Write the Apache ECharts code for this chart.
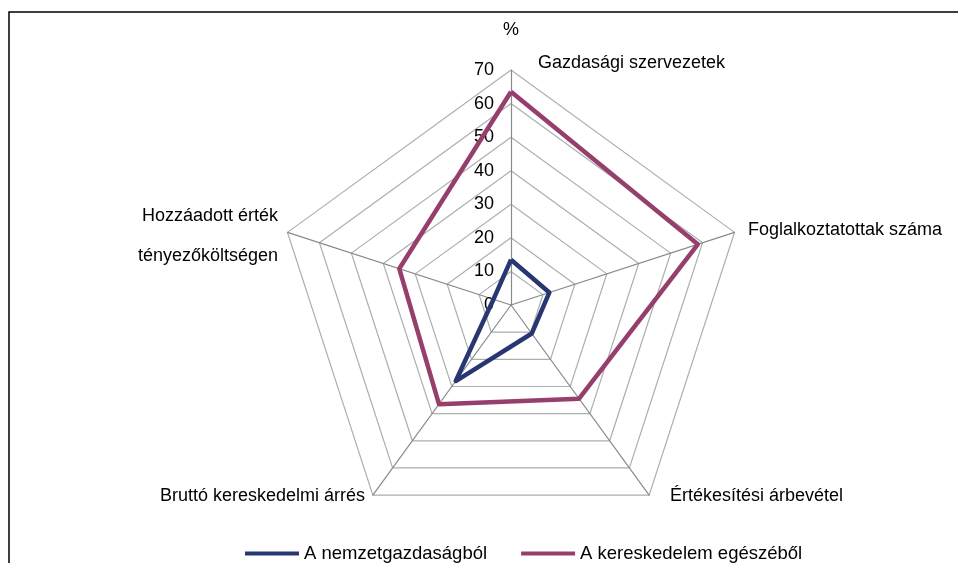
<!DOCTYPE html>
<html>
  <head>
    <meta charset="utf-8" />
    <title>ECharts</title>
    <script src="https://cdn.jsdelivr.net/npm/echarts@6/dist/echarts.min.js"></script>
  </head>

  <body style="margin: 0">
    <div id="main" style="width: 958px; height: 563px"></div>
    <script type="text/javascript">
      var myChart = echarts.init(document.getElementById("main"));

      // indicators in clockwise order, starting at the top
      const indicators = [
        "Gazdasági szervezetek",
        "Foglalkoztatottak száma",
        "Értékesítési árbevétel",
        "Bruttó kereskedelmi árrés",
        "Hozzáadott érték\ntényezőköltségen",
      ];
      const nemzetgazdasag = [13.5, 12, 10.5, 28, 5.5];
      const kereskedelem = [63.5, 58.5, 34.5, 36.5, 35];
      const seriesNames = ["A nemzetgazdaságból", "A kereskedelem egészéből"];
      const axisMax = 70;

      // ECharts lays radar axes out counter-clockwise, so reverse after the first
      function clockwise(arr) {
        return [arr[0]].concat(arr.slice(1).reverse());
      }

      const cx = 511, cy = 305, R = 235;
      const font = "'Liberation Sans', Arial, sans-serif";

      const nameStyle = { fontSize: 18, fontFamily: font, fill: "#000" };
      function label(text, x, y, align) {
        return {
          type: "text",
          x: x,
          y: y,
          style: Object.assign({ text: text, align: align, verticalAlign: "middle", lineHeight: 40 }, nameStyle),
        };
      }

      option = {
        backgroundColor: "#fff",
        color: ["#283671", "#963f6c"],
        legend: {
          left: 240,
          top: 539,
          itemWidth: 54,
          itemHeight: 4,
          itemGap: 34,
          icon: "rect",
          textStyle: { fontSize: 18.5, fontFamily: font, color: "#000" },
          data: seriesNames,
        },
        radar: {
          center: [cx, cy],
          radius: R,
          shape: "polygon",
          splitNumber: 7,
          startAngle: 90,
          indicator: clockwise(indicators).map(function (n, i) {
            const ind = { name: n, min: 0, max: axisMax };
            if (i === 0) ind.axisLabel = { show: true };
            return ind;
          }),
          axisName: { show: false },
          axisLine: { lineStyle: { color: "#868b8b", width: 1.2 } },
          splitLine: { lineStyle: { color: "#abafaf", width: 1.2 } },
          splitArea: { show: false },
          axisTick: { show: false },
          axisLabel: {
            show: false,
            fontSize: 18,
            fontFamily: font,
            color: "#000",
            margin: 17,
          },
        },
        graphic: [
          {
            type: "rect",
            shape: { x: 9, y: 12, width: 1000, height: 600 },
            style: { fill: null, stroke: "#000", lineWidth: 1.5 },
          },
          label("%", cx, 30, "center"),
          label(indicators[0], 538, 63, "left"),
          label(indicators[1], 748, 230, "left"),
          label(indicators[2], 670, 496, "left"),
          label(indicators[3], 365, 496, "right"),
          label(indicators[4], 278, 236, "right"),
        ],
        series: [
          {
            type: "radar",
            symbol: "none",
            lineStyle: { width: 4.5 },
            data: [
              { name: seriesNames[0], value: clockwise(nemzetgazdasag) },
              { name: seriesNames[1], value: clockwise(kereskedelem) },
            ],
          },
        ],
      };

      myChart.setOption(option);
    </script>
  </body>
</html>
